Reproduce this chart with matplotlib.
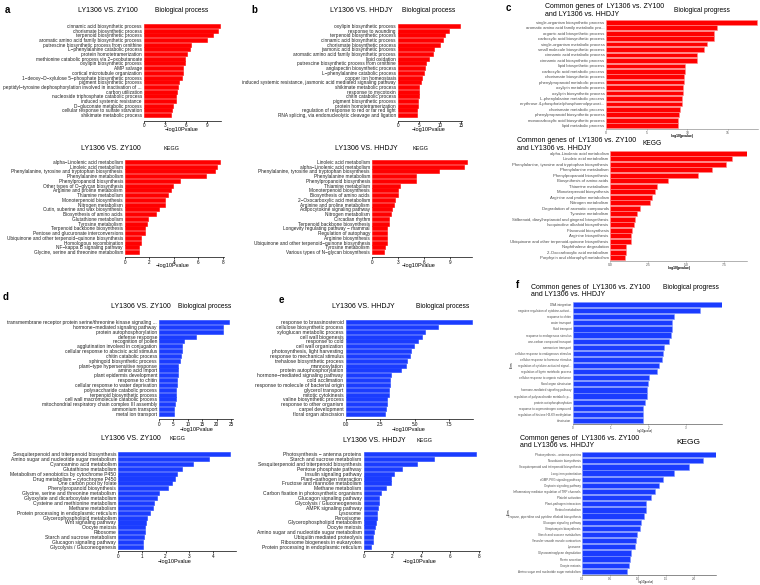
import matplotlib
matplotlib.use("Agg")
import matplotlib.pyplot as plt

plt.rcParams['font.family'] = ['Liberation Sans', 'DejaVu Sans']

RED = '#ff0000'
BLUE = '#1a3cff'

# ---- a: LY1306 vs ZY100, up-regulated ----
a_bp_terms = ["cinnamic acid biosynthetic process", "chorismate biosynthetic process",
              "terpenoid biosynthetic process", "aromatic amino acid family biosynthetic process",
              "putrescine biosynthetic process from ornithine", "L\u2212phenylalanine catabolic process",
              "protein homotetramerization", "methionine catabolic process via 2\u2212oxobutanoate",
              "oxylipin biosynthetic process", "AMP salvage", "cortical microtubule organization",
              "1\u2212deoxy\u2212D\u2212xylulose 5\u2212phosphate biosynthetic process",
              "pigment biosynthetic process",
              "peptidyl\u2212tyrosine dephosphorylation involved in inactivation of ...",
              "carbon utilization", "nucleoside triphosphate catabolic process",
              "induced systemic resistance", "D\u2212gluconate metabolic process",
              "cellular response to sulfate starvation", "shikimate metabolic process"]
a_bp_vals = [10.9, 10.5, 9.9, 9.0, 6.7, 6.6, 6.2, 5.8, 5.8, 5.6, 5.5, 5.4, 4.95, 4.8, 4.7,
             4.5, 4.5, 4.2, 4.0, 3.9]

a_kegg_terms = ["alpha\u2212Linolenic acid metabolism", "Linoleic acid metabolism",
                "Phenylalanine, tyrosine and tryptophan biosynthesis", "Phenylalanine metabolism",
                "Phenylpropanoid biosynthesis", "Other types of O\u2212glycan biosynthesis",
                "Arginine and proline metabolism", "Thiamine metabolism",
                "Monoterpenoid biosynthesis", "Nitrogen metabolism",
                "Cutin, suberine and wax biosynthesis", "Biosynthesis of amino acids",
                "Glutathione metabolism", "Tyrosine metabolism",
                "Terpenoid backbone biosynthesis", "Pentose and glucuronate interconversions",
                "Ubiquinone and other terpenoid\u2212quinone biosynthesis",
                "Homologous recombination", "NF\u2212kappa B signaling pathway",
                "Glycine, serine and threonine metabolism"]
a_kegg_vals = [7.8, 7.57, 7.38, 6.64, 4.5, 3.96, 3.74, 3.5, 3.3, 3.25, 2.81, 2.54, 1.91, 1.78,
               1.61, 1.61, 1.34, 1.34, 1.15, 1.12]

# ---- b: LY1306 vs HHDJY, up-regulated ----
b_bp_terms = ["oxylipin biosynthetic process", "response to wounding",
              "terpenoid biosynthetic process", "cinnamic acid biosynthetic process",
              "chorismate biosynthetic process", "jasmonic acid biosynthetic process",
              "aromatic amino acid family biosynthetic process", "lipid oxidation",
              "putrescine biosynthetic process from ornithine", "anglapectin biosynthetic process",
              "L\u2212phenylalanine catabolic process", "copper ion homeostasis",
              "induced systemic resistance, jasmonic acid mediated signaling pathway",
              "shikimate metabolic process", "response to mycotoxin", "chitin catabolic process",
              "pigment biosynthetic process", "protein homotetramerization",
              "regulation of response to red or far red light",
              "RNA splicing, via endonucleolytic cleavage and ligation"]
b_bp_vals = [14.76, 12.2, 11.3, 10.6, 9.9, 8.65, 8.4, 7.4, 6.6, 6.35, 6.2, 5.6, 5.4, 5.1, 4.9,
             4.9, 4.76, 4.76, 4.6, 4.44]

b_kegg_terms = ["Linoleic acid metabolism", "alpha\u2212Linolenic acid metabolism",
                "Phenylalanine, tyrosine and tryptophan biosynthesis", "Phenylalanine metabolism",
                "Phenylpropanoid biosynthesis", "Thiamine metabolism",
                "Monoterpenoid biosynthesis", "Biosynthesis of amino acids",
                "2\u2212Oxocarboxylic acid metabolism", "Arginine and proline metabolism",
                "Adipocytokine signaling pathway", "Nitrogen metabolism", "Circadian rhythm",
                "Terpenoid backbone biosynthesis", "Longevity regulating pathway \u2212 mammal",
                "Regulation of autophagy", "Arginine biosynthesis",
                "Ubiquinone and other terpenoid\u2212quinone biosynthesis", "Tyrosine metabolism",
                "Various types of N\u2212glycan biosynthesis"]
b_kegg_vals = [11.0, 10.65, 7.7, 5.08, 5.08, 3.23, 3.0, 3.0, 2.65, 2.58, 2.3, 2.15, 2.0, 1.92,
               1.77, 1.77, 1.7, 1.7, 1.54, 1.35]

# ---- c: common genes, up-regulated ----
c_bp_terms = ["single-organism biosynthetic process", "aromatic amino acid family metabolic pro...",
              "organic acid biosynthetic process", "carboxylic acid biosynthetic process",
              "single-organism metabolic process", "small molecule biosynthetic process",
              "cinnamic acid metabolic process", "cinnamic acid biosynthetic process",
              "lipid biosynthetic process", "carboxylic acid metabolic process",
              "chorismate biosynthetic process", "phenylpropanoid metabolic process",
              "oxylipin metabolic process", "oxylipin biosynthetic process",
              "L-phenylalanine metabolic process", "erythrose 4-phosphate/phosphoenolpyruvat...",
              "chorismate metabolic process", "phenylpropanoid biosynthetic process",
              "monocarboxylic acid biosynthetic process", "lipid metabolic process"]
c_bp_vals = [18.6, 13.7, 13.3, 13.3, 12.4, 12.0, 11.2, 11.2, 9.67, 9.67, 9.6, 9.6, 9.5, 9.5,
             9.4, 9.4, 9.1, 9.0, 8.9, 8.9]

c_kegg_terms = ["alpha-Linolenic acid metabolism", "Linoleic acid metabolism",
                "Phenylalanine, tyrosine and tryptophan biosynthesis", "Phenylalanine metabolism",
                "Phenylpropanoid biosynthesis", "Biosynthesis of amino acids",
                "Thiamine metabolism", "Monoterpenoid biosynthesis",
                "Arginine and proline metabolism", "Nitrogen metabolism",
                "Degradation of aromatic compounds", "Tyrosine metabolism",
                "Stilbenoid, diarylheptanoid and gingerol biosynthesis",
                "Isoquinoline alkaloid biosynthesis", "Flavonoid biosynthesis",
                "Arginine biosynthesis", "Ubiquinone and other terpenoid-quinone biosynthesis",
                "Naphthalene degradation", "2-Oxocarboxylic acid metabolism",
                "Porphyrin and chlorophyll metabolism"]
c_kegg_vals = [9.0, 8.03, 7.66, 6.7, 5.77, 3.8, 3.1, 2.93, 2.75, 2.62, 1.96, 1.78, 1.65, 1.56,
               1.48, 1.39, 1.39, 1.04, 1.04, 1.01]

# ---- d: LY1306 vs ZY100, down-regulated ----
d_bp_terms = ["transmembrane receptor protein serine/threonine kinase signaling ...",
              "hormone\u2212mediated signaling pathway", "protein autophosphorylation",
              "defense response", "recognition of pollen", "agglutination involved in conjugation",
              "cellular response to abscisic acid stimulus", "chitin catabolic process",
              "sphingoid biosynthetic process", "plant\u2212type hypersensitive response",
              "amino acid import", "plant epidermis development", "response to chitin",
              "cellular response to water deprivation", "polysaccharide catabolic process",
              "terpenoid biosynthetic process", "cell wall macromolecule catabolic process",
              "mitochondrial respiratory chain complex III assembly", "ammonium transport",
              "metal ion transport"]
d_bp_vals = [24.2, 22.3, 22.3, 12.7, 8.6, 8.0, 7.9, 7.6, 7.3, 6.7, 6.6, 6.5, 6.3, 6.1, 6.0,
             5.8, 5.8, 5.6, 5.2, 5.2]

d_kegg_terms = ["Sesquiterpenoid and triterpenoid biosynthesis",
                "Amino sugar and nucleotide sugar metabolism", "Cyanoamino acid metabolism",
                "Glutathione metabolism", "Metabolism of xenobiotics by cytochrome P450",
                "Drug metabolism \u2212 cytochrome P450", "One carbon pool by folate",
                "Phenylpropanoid biosynthesis", "Glycine, serine and threonine metabolism",
                "Glyoxylate and dicarboxylate metabolism", "Cysteine and methionine metabolism",
                "Methane metabolism", "Protein processing in endoplasmic reticulum",
                "Glycerophospholipid metabolism", "Wnt signaling pathway", "Oocyte meiosis",
                "Ribosome", "Starch and sucrose metabolism", "Glucagon signaling pathway",
                "Glycolysis / Gluconeogenesis"]
d_kegg_vals = [4.73, 3.86, 3.18, 2.7, 2.48, 2.42, 2.28, 2.12, 1.71, 1.63, 1.51, 1.48, 1.34,
               1.23, 1.17, 1.12, 1.12, 1.07, 1.06, 1.03]

# ---- e: LY1306 vs HHDJY, down-regulated ----
e_bp_terms = ["response to brassinosteroid", "cellulose biosynthetic process",
              "xyloglucan metabolic process", "cell wall biogenesis", "response to cold",
              "cell wall organization", "photosynthesis, light harvesting",
              "response to mechanical stimulus", "trehalose biosynthetic process",
              "mannosylation", "protein autophosphorylation",
              "hormone\u2212mediated signaling pathway", "cold acclimation",
              "response to molecule of bacterial origin", "glycerol transport",
              "mitotic cytokinesis", "valine biosynthetic process", "response to other organism",
              "carpel development", "floral organ abscission"]
e_bp_vals = [9.16, 6.65, 5.74, 5.55, 5.21, 4.92, 4.7, 4.68, 4.44, 4.36, 4.0, 3.28, 3.23, 3.21,
             3.16, 3.16, 3.01, 2.97, 2.94, 2.87]

e_kegg_terms = ["Photosynthesis \u2212 antenna proteins", "Starch and sucrose metabolism",
                "Sesquiterpenoid and triterpenoid biosynthesis", "Pentose phosphate pathway",
                "Insulin signaling pathway", "Plant\u2212pathogen interaction",
                "Fructose and mannose metabolism", "Methane metabolism",
                "Carbon fixation in photosynthetic organisms", "Glucagon signaling pathway",
                "Glycolysis / Gluconeogenesis", "AMPK signaling pathway", "Lysosome",
                "Peroxisome", "Glycerophospholipid metabolism", "Oocyte meiosis",
                "Amino sugar and nucleotide sugar metabolism", "Ubiquitin mediated proteolysis",
                "Ribosome biogenesis in eukaryotes", "Protein processing in endoplasmic reticulum"]
e_kegg_vals = [7.76, 4.86, 3.71, 2.63, 2.12, 1.91, 1.91, 1.54, 1.18, 1.08, 1.06, 1.01, 0.92,
               0.92, 0.85, 0.76, 0.71, 0.67, 0.62, 0.48]

# ---- f: common genes, down-regulated ----
f_bp_terms = ["DNA integration", "negative regulation of cytokine-activat...", "response to chitin",
              "water transport", "fluid transport", "response to endogenous stimulus",
              "one-carbon compound transport", "ammonium transport",
              "cellular response to endogenous stimulus", "cellular response to hormone stimulus",
              "regulation of cytokine-activated signal...", "regulation of lignin metabolic process",
              "cellular response to organic substance", "floral organ abscission",
              "hormone-mediated signaling pathway", "regulation of polysaccharide metabolic p...",
              "protein autophosphorylation", "response to organonitrogen compound",
              "regulation of histone H3-K9 methylation", "abscission"]
f_bp_vals = [3.95, 3.36, 2.68, 2.64, 2.64, 2.6, 2.56, 2.41, 2.4, 2.36, 2.29, 2.24, 2.03, 1.98,
             1.97, 1.97, 1.9, 1.87, 1.86, 1.86]

f_kegg_terms = ["Photosynthesis - antenna proteins", "Novobiocin biosynthesis",
                "Sesquiterpenoid and triterpenoid biosynthesis", "Long-term potentiation",
                "cGMP-PKG signaling pathway", "Oxytocin signaling pathway",
                "Inflammatory mediator regulation of TRP channels", "Platelet activation",
                "Plant-pathogen interaction", "Retinol metabolism",
                "Tropane, piperidine and pyridine alkaloid biosynthesis",
                "Glucagon signaling pathway", "Streptomycin biosynthesis",
                "Starch and sucrose metabolism", "Vascular smooth muscle contraction", "Lysosome",
                "Glycosaminoglycan degradation", "Renin secretion", "Oocyte meiosis",
                "Amino sugar and nucleotide sugar metabolism"]
f_kegg_vals = [2.4, 2.16, 1.92, 1.64, 1.44, 1.38, 1.3, 1.24, 1.15, 1.14, 1.1, 1.05, 1.04, 0.99,
               0.96, 0.95, 0.87, 0.86, 0.83, 0.8]

W, H = 760, 585
fig = plt.figure(figsize=(7.6, 5.85), dpi=100)


def panel(terms, vals, color, x0, s, xr, yt, yb, ya, xticks, style='r',
          lab_size=3.45, tick_size=3.3, h=0.85, edge=None):
    n = len(vals)
    p = (yb - yt) / (n - 1 + h)
    ybot = (n - 1) + h / 2 + (ya - yb) / p
    ax = fig.add_axes([x0 / W, 1 - ya / H, (xr - x0) / W, (ya - yt) / H])
    ax.barh(range(n), vals, height=h, color=color,
            edgecolor=edge if edge else color, linewidth=0.4)
    ax.set_ylim(ybot, -h / 2)
    ax.set_xlim(0, (xr - x0) / s)
    ax.set_yticks(range(n))
    ax.set_yticklabels(terms)
    ax.set_xticks(xticks)
    for sp in ['top', 'right', 'left']:
        ax.spines[sp].set_visible(False)
    if style == 'r':
        ax.spines['bottom'].set_linewidth(0.5)
        ax.tick_params(axis='y', length=0, pad=1.5, labelsize=lab_size, colors='#222222')
        ax.tick_params(axis='x', length=1.2, width=0.5, pad=0.6, labelsize=tick_size)
    else:
        ax.spines['bottom'].set_linewidth(0.4)
        ax.spines['bottom'].set_color('#777777')
        ax.tick_params(axis='y', length=0, pad=1, labelsize=lab_size, labelcolor='#4d4d4d')
        ax.tick_params(axis='x', length=1, width=0.4, pad=0.4, labelsize=tick_size,
                       labelcolor='#4d4d4d', color='#777777')
    return ax


def txt(x, y, s, size, weight='normal', ha='center', color='black'):
    fig.text(x / W, 1 - y / H, s, fontsize=size, fontweight=weight, ha=ha, va='center',
             color=color)


# a
panel(a_bp_terms, a_bp_vals, RED, 144, 7.0, 221, 24, 117, 121, [0, 3, 6, 9])
panel(a_kegg_terms, a_kegg_vals, RED, 125, 12.21, 224, 160, 254, 257, [0, 2, 4, 6, 8])
txt(7, 10, "a", 7, 'bold')
txt(107.5, 11, "LY1306 VS. ZY100", 5)
txt(181.5, 11, "Biological process", 4.8)
txt(182, 130, "\u2212log10Pvalue", 4)
txt(111, 148, "LY1306 VS. ZY100", 5)
txt(172, 148, "KEGG", 4)
txt(172.5, 266, "\u2212log10Pvalue", 4)

# b
panel(b_bp_terms, b_bp_vals, RED, 398, 4.2, 462, 24, 117, 121, [0, 5, 10, 15])
panel(b_kegg_terms, b_kegg_vals, RED, 372, 8.67, 471.7, 160, 254, 257, [0, 3, 6, 9])
txt(254, 10, "b", 7, 'bold')
txt(361.5, 11, "LY1306 VS. HHDJY", 5)
txt(428.5, 11, "Biological process", 4.8)
txt(429, 130, "\u2212log10Pvalue", 4)
txt(366, 148, "LY1306 VS. HHDJY", 5)
txt(420, 148, "KEGG", 4)
txt(419, 266, "\u2212log10Pvalue", 4)

# c
panel(c_bp_terms, c_bp_vals, RED, 606, 8.13, 758, 20, 128, 129, [0, 5, 10, 15],
      style='g', lab_size=3.05, tick_size=2.4, edge='#ff8a8a')
panel(c_kegg_terms, c_kegg_vals, RED, 610, 15.2, 746.7, 151, 260, 261, [0, 2.5, 5, 7.5],
      style='g', lab_size=3.05, tick_size=2.4, edge='#ff8a8a')
txt(508, 8, "c", 7, 'bold')
txt(545, 6, "Common genes of  LY1306 vs. ZY100", 5, ha='left')
txt(545, 14, "and LY1306 vs. HHDJY", 5, ha='left')
txt(701.5, 10, "Biological progress", 4.8)
txt(682, 135.5, "-log10(pvalue)", 2.4, 'bold')
txt(517, 140.5, "Common genes of  LY1306 vs. ZY100", 5, ha='left')
txt(517, 148, "and LY1306 vs. HHDJY", 5, ha='left')
txt(652, 143.5, "KEGG", 4.8)
txt(679, 268, "-log10(pvalue)", 2.4, 'bold')

# d
panel(d_bp_terms, d_bp_vals, BLUE, 159, 2.88, 233, 320, 416, 419, [0, 5, 10, 15, 20, 25],
      lab_size=3.55)
panel(d_kegg_terms, d_kegg_vals, BLUE, 118.3, 23.6, 235.7, 452, 549, 551, [0, 1, 2, 3, 4],
      lab_size=3.6)
txt(6, 297, "d", 7, 'bold')
txt(141, 306, "LY1306 VS. ZY100", 5)
txt(205, 306, "Biological process", 4.8)
txt(197, 429, "\u2212log10Pvalue", 4)
txt(131, 439, "LY1306 VS. ZY100", 5)
txt(177.5, 439, "KEGG", 4)
txt(174.5, 561, "\u2212log10Pvalue", 4)

# e
panel(e_bp_terms, e_bp_vals, BLUE, 345.7, 13.81, 473, 320, 416, 419, [0, 2.5, 5, 7.5],
      lab_size=3.6)
panel(e_kegg_terms, e_kegg_vals, BLUE, 363.7, 14.45, 480, 452, 549, 551, [0, 2, 4, 6, 8],
      lab_size=3.6)
txt(281, 300, "e", 7, 'bold')
txt(363.5, 306, "LY1306 VS. HHDJY", 5)
txt(442.5, 306, "Biological process", 4.8)
txt(409, 429, "\u2212log10Pvalue", 4)
txt(374, 441, "LY1306 VS. HHDJY", 5)
txt(424.5, 441, "KEGG", 4)
txt(420, 561, "\u2212log10Pvalue", 4)

# f
axf1 = panel(f_bp_terms, f_bp_vals, BLUE, 572.7, 37.8, 722, 302, 423, 424, [0, 1, 2, 3],
             style='g', lab_size=2.2, tick_size=2.2, edge='#7f95ff')
axf2 = panel(f_kegg_terms, f_kegg_vals, BLUE, 582.3, 55.7, 715.7, 452, 574, 575,
             [0, 0.5, 1, 1.5, 2], style='g', lab_size=2.2, tick_size=2.2, edge='#7f95ff')
for ax in (axf1, axf2):
    ax.spines['bottom'].set_color('#333333')
axf2.set_xticklabels(["0.0", "0.5", "1.0", "1.5", "2.0"])
txt(517, 285, "f", 7, 'bold')
txt(531, 287.5, "Common genes of  LY1306 vs. ZY100", 5, ha='left')
txt(531, 295, "and LY1306 vs. HHDJY", 5, ha='left')
txt(691, 287.5, "Biological progress", 4.8)
txt(645, 431, "-log10(pvalue)", 1.8)
fig.text(512 / W, 1 - 365 / H, "Terms", fontsize=1.8, rotation=90, ha='center', va='center')
txt(520, 438, "Common genes of  LY1306 vs. ZY100", 5, ha='left')
txt(520, 445.5, "and LY1306 vs. HHDJY", 5, ha='left')
txt(688, 443, "KEGG", 6)
txt(646, 582, "-log10(pvalue)", 1.8)
fig.text(509 / W, 1 - 512 / H, "Terms", fontsize=1.8, rotation=90, ha='center', va='center')

fig.savefig("out.png", dpi=100)
